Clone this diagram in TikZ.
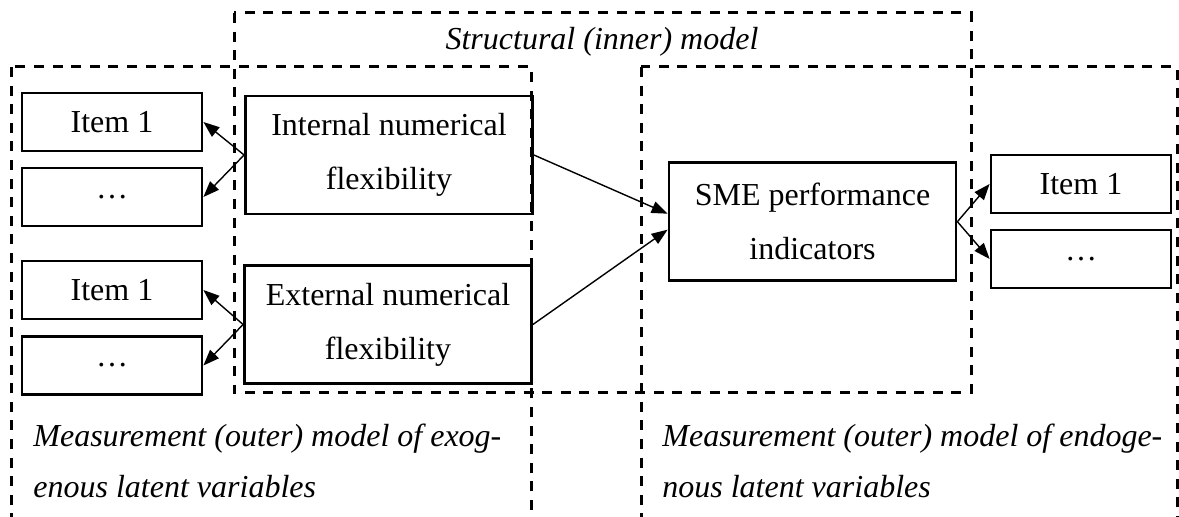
\documentclass[tikz,border=0pt]{standalone}
\usepackage{fontspec}
\setmainfont{Liberation Serif}
\usetikzlibrary{arrows.meta}
\begin{document}
\begin{tikzpicture}[x=0.5pt,y=-0.5pt,
  frame/.style={line width=1.5pt, dash pattern=on 5pt off 4.3pt},
  item/.style={draw, line width=1.4pt, minimum width=90pt, minimum height=29pt,
    inner sep=0pt, font=\fontsize{16}{27}\selectfont},
  latent/.style={draw, line width=1.4pt, minimum width=143.5pt, minimum height=59pt,
    inner sep=0pt, align=center, font=\fontsize{16}{27}\selectfont},
  lbl/.style={inner sep=0pt, font=\fontsize{16}{27}\selectfont\itshape},
  conn/.style={line width=0.7pt, -{Triangle[length=8pt,width=6pt]}}]

% canvas
\clip (0,0) rectangle (1179,517);

% model frames
\draw[frame] (234,13) rectangle (971,393);
\draw[frame] (11,67) rectangle (531,540);
\draw[frame] (641,67) rectangle (1177,540);

% frame labels
\node[lbl, anchor=base] (stl) at (602,50) {Structural (inner) model};
\node[lbl, anchor=base west] (ml1) at (33,447) {Measurement (outer) model of exog-};
\node[lbl, anchor=base west] (ml2) at (33,498) {enous latent variables};
\node[lbl, anchor=base west] (mr1) at (662,447) {Measurement (outer) model of endoge-};
\node[lbl, anchor=base west] (mr2) at (662,498) {nous latent variables};

% indicator items
\node[item] (li1) at (112,122) {Item 1};
\node[item] (li2) at (112,197) {…};
\node[item] (li3) at (112,290) {Item 1};
\node[item] (li4) at (112,365.5) {…};
\node[item] (ri1) at (1081,184) {Item 1};
\node[item] (ri2) at (1081,259) {…};

% latent variables
\node[latent] (int) at (389,155) {Internal numerical\\flexibility};
\node[latent] (ext) at (388,324.5) {External numerical\\flexibility};
\node[latent] (sme) at (812.5,221.7) {SME performance\\indicators};

% connectors
\draw[conn] (int.west) -- (li1.east);
\draw[conn] (int.west) -- (li2.east);
\draw[conn] (ext.west) -- (li3.east);
\draw[conn] (ext.west) -- (li4.east);
\draw[conn] (int.east) -- ([yshift=4pt]sme.west);
\draw[conn] (ext.east) -- ([yshift=-4pt]sme.west);
\draw[conn] (sme.east) -- (ri1.west);
\draw[conn] (sme.east) -- (ri2.west);
\end{tikzpicture}
\end{document}
